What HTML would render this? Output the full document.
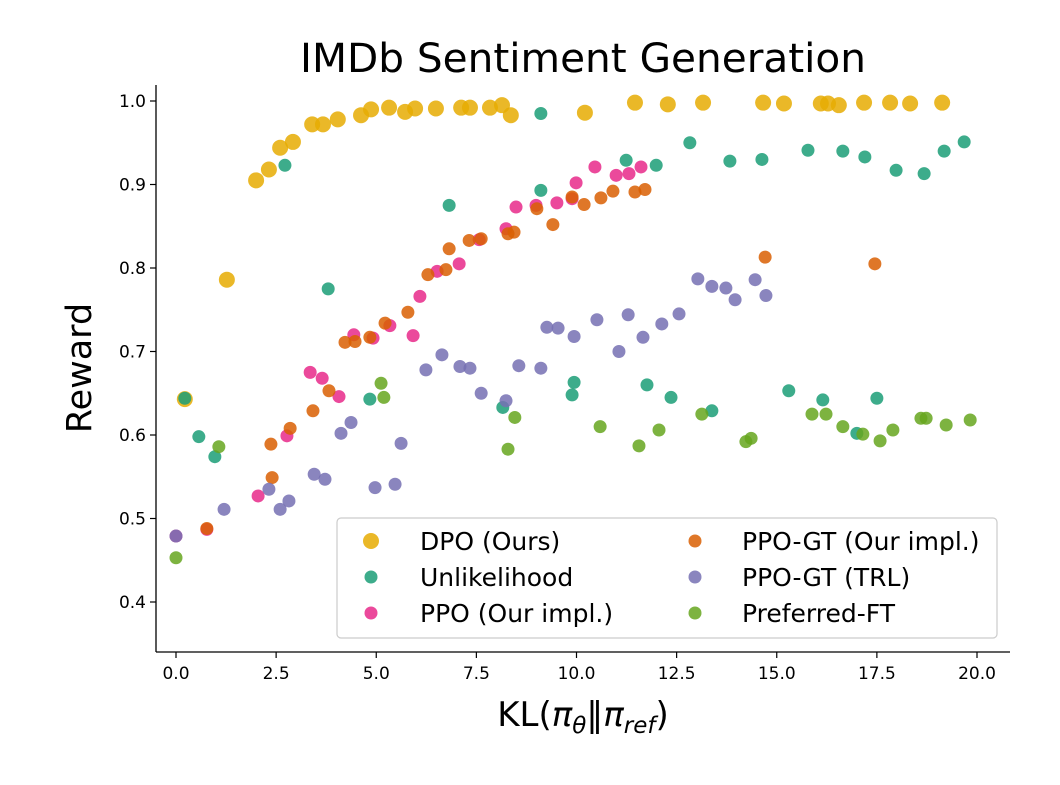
<!DOCTYPE html>
<html><head><meta charset="utf-8"><style>
body{margin:0;background:#fff;}
svg text{font-family:"DejaVu Sans","Liberation Sans",sans-serif;fill:#000;}
</style></head><body>
<svg id="chart" width="1060" height="780" xmlns="http://www.w3.org/2000/svg">
<text x="583" y="72" font-size="34" text-anchor="middle" textLength="566" lengthAdjust="spacingAndGlyphs" style="font-size:40px">IMDb Sentiment Generation</text>
<g id="plot"></g>
<g id="axes"></g>
<text transform="translate(91,368) rotate(-90)" font-size="35" text-anchor="middle">Reward</text>
<text x="583" y="726" font-size="34" text-anchor="middle">KL(<tspan font-style="italic">π</tspan><tspan font-size="23" dy="7" font-style="italic">θ</tspan><tspan dy="-7">‖</tspan><tspan font-style="italic">π</tspan><tspan font-size="23" dy="7" font-style="italic">ref</tspan><tspan dy="-7">)</tspan></text>
<g id="legend"></g>
</svg>
<script>
const xTicks=[0,2.5,5,7.5,10,12.5,15,17.5,20];
const xTickLabels=["0.0","2.5","5.0","7.5","10.0","12.5","15.0","17.5","20.0"];
const yTicks=[0.4,0.5,0.6,0.7,0.8,0.9,1.0];
const yTickLabels=["0.4","0.5","0.6","0.7","0.8","0.9","1.0"];
const seriesNames=["DPO (Ours)","Unlikelihood","PPO (Our impl.)","PPO-GT (Our impl.)","PPO-GT (TRL)","Preferred-FT"];
const dpoX=[0.22,1.27,2.0,2.32,2.6,2.92,3.4,3.67,4.04,4.62,4.87,5.32,5.72,5.97,6.49,7.12,7.34,7.84,8.14,8.36,10.21,11.46,12.28,13.16,14.66,15.18,16.1,16.28,16.55,17.18,17.83,18.33,19.13];
const dpoY=[0.643,0.786,0.905,0.918,0.944,0.951,0.972,0.972,0.978,0.983,0.990,0.992,0.987,0.991,0.991,0.992,0.992,0.992,0.995,0.983,0.986,0.998,0.996,0.998,0.998,0.997,0.997,0.997,0.995,0.998,0.998,0.997,0.998];
const ulX=[0.22,2.72,3.8,0.57,0.97,6.82,9.11,9.11,11.24,11.99,12.83,13.83,14.63,15.78,16.65,17.2,17.98,18.68,19.18,19.68,4.84,8.16,9.94,9.89,11.76,12.36,13.38,15.3,16.15,17.0,17.5];
const ulY=[0.644,0.923,0.775,0.598,0.574,0.875,0.985,0.893,0.929,0.923,0.95,0.928,0.93,0.941,0.94,0.933,0.917,0.913,0.94,0.951,0.643,0.633,0.663,0.648,0.66,0.645,0.629,0.653,0.642,0.602,0.644];
const ppoX=[0,0.77,2.05,2.77,3.35,3.65,4.07,4.44,4.92,5.34,5.92,6.09,6.52,7.07,7.57,8.24,8.49,8.99,9.51,9.99,9.89,10.46,10.99,11.31,11.61];
const ppoY=[0.479,0.487,0.527,0.599,0.675,0.668,0.646,0.720,0.716,0.731,0.719,0.766,0.796,0.805,0.834,0.847,0.873,0.875,0.878,0.902,0.883,0.921,0.911,0.913,0.921];
const gtX=[0.77,2.37,2.4,2.85,3.42,3.82,4.22,4.47,4.84,5.22,5.79,6.29,6.74,6.82,7.32,7.62,8.29,8.44,9.01,9.41,9.89,10.19,10.61,10.91,11.46,11.71,14.71,17.45];
const gtY=[0.488,0.589,0.549,0.608,0.629,0.653,0.711,0.712,0.717,0.734,0.747,0.792,0.798,0.823,0.833,0.835,0.841,0.843,0.871,0.852,0.885,0.876,0.884,0.892,0.891,0.894,0.813,0.805];
const trlX=[0,1.2,2.32,2.6,2.82,3.45,3.72,4.12,4.37,4.97,5.47,5.62,6.24,6.64,7.09,7.34,7.62,8.24,8.56,9.11,9.26,9.54,9.94,10.51,11.06,11.29,11.66,12.13,12.56,13.03,13.38,13.73,13.96,14.46,14.73];
const trlY=[0.479,0.511,0.535,0.511,0.521,0.553,0.547,0.602,0.615,0.537,0.541,0.59,0.678,0.696,0.682,0.68,0.65,0.641,0.683,0.68,0.729,0.728,0.718,0.738,0.7,0.744,0.717,0.733,0.745,0.787,0.778,0.776,0.762,0.786,0.767];
const ftX=[0,1.07,5.12,5.19,8.46,8.29,10.59,11.56,12.06,13.13,14.23,14.36,15.88,16.23,16.65,17.15,17.58,17.9,18.6,18.73,19.23,19.83];
const ftY=[0.453,0.586,0.662,0.645,0.621,0.583,0.61,0.587,0.606,0.625,0.592,0.596,0.625,0.625,0.61,0.601,0.593,0.606,0.62,0.62,0.612,0.618];

const NS="http://www.w3.org/2000/svg";
const X0=176,XS=40.05,Y0=101,YS=835;
function sx(v){return X0+v*XS;}
function sy(v){return Y0+(1.0-v)*YS;}
function mk(tag,attrs,parent){const e=document.createElementNS(NS,tag);for(const k in attrs)e.setAttribute(k,attrs[k]);parent.appendChild(e);return e;}
const axes=document.getElementById('axes'),plot=document.getElementById('plot'),legend=document.getElementById('legend');
const L=156,B=652,T=85,R=1010;
let sp=mk('line',{x1:L,y1:T,x2:L,y2:B,stroke:'#000','stroke-width':1.3},axes);


sp=mk('line',{x1:L,y1:B,x2:R,y2:B,stroke:'#000','stroke-width':1.3},axes);


xTicks.forEach((v,i)=>{
  const t=mk('line',{x1:sx(v),x2:sx(v),y1:B,y2:B+6,stroke:'#000','stroke-width':1.2},axes);
  
  
  const tx=mk('text',{x:sx(v),y:B+27,'font-size':17,'text-anchor':'middle'},axes);tx.textContent=xTickLabels[i];
  
  
});
yTicks.forEach((v,i)=>{
  const t=mk('line',{x1:L-6,x2:L,y1:sy(v),y2:sy(v),stroke:'#000','stroke-width':1.2},axes);
  
  
  const tx=mk('text',{x:L-10,y:sy(v)+6,'font-size':17,'text-anchor':'end'},axes);tx.textContent=yTickLabels[i];
  
  
});
const series=[
 {xs:dpoX,ys:dpoY,c:'#e6ab02',r:8,n:'dpo-point'},
 {xs:ulX,ys:ulY,c:'#1b9e77',r:6.5,n:'unlikelihood-point'},
 {xs:ppoX,ys:ppoY,c:'#e7298a',r:6.5,n:'ppo-point'},
 {xs:gtX,ys:gtY,c:'#d95f02',r:6.5,n:'ppo-gt-point'},
 {xs:trlX,ys:trlY,c:'#7570b3',r:6.5,n:'ppo-gt-trl-point'},
 {xs:ftX,ys:ftY,c:'#66a61e',r:6.5,n:'preferred-ft-point'}];
series.forEach(s=>{
  s.xs.forEach((x,i)=>{
    const c=mk('circle',{cx:sx(x),cy:sy(s.ys[i]),r:s.r,fill:s.c,'fill-opacity':0.85},plot);
    
    
  });
});
const box=mk('rect',{x:337,y:518,width:660,height:120,rx:4,fill:'#fff','fill-opacity':0.8,stroke:'#ccc','stroke-width':1.2},legend);


seriesNames.forEach((nm,i)=>{
  const col=i<3?0:1,row=i%3;
  const mx=col?695:371,tx0=col?742:420,yy=541+row*36;
  const m=mk('circle',{cx:mx,cy:yy,r:series[i].r,fill:series[i].c,'fill-opacity':0.85},legend);
  
  
  const t=mk('text',{x:tx0,y:yy+9,'font-size':25},legend);t.textContent=nm;
  
  
});
</script>
</body></html>
